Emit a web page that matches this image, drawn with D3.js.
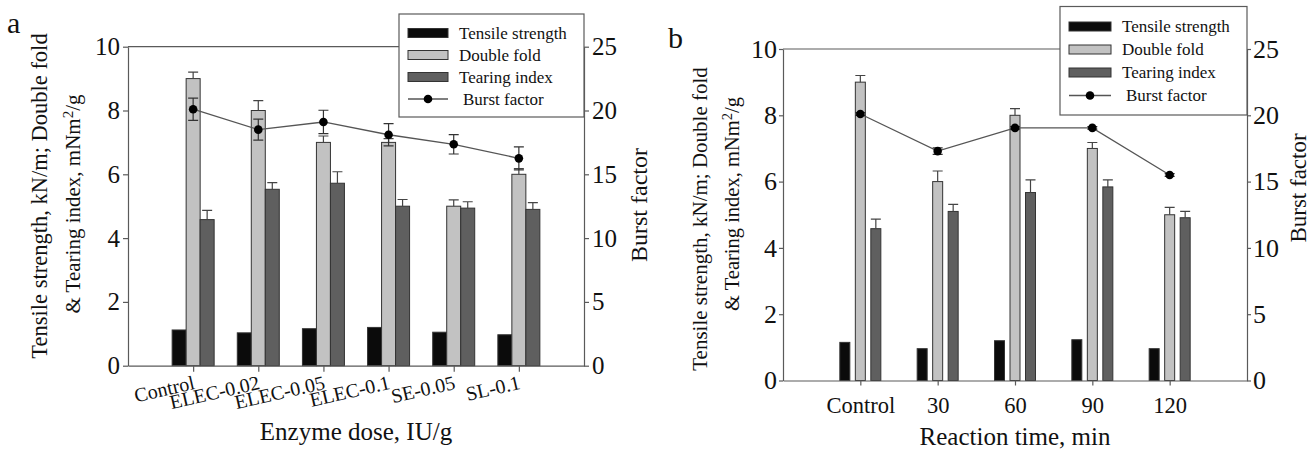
<!DOCTYPE html>
<html>
<head>
<meta charset="utf-8">
<script src="https://cdn.jsdelivr.net/npm/d3@7"></script>
<style>
  body { margin: 0; background: #fff; }
</style>
</head>
<body>
<div id="chart"></div>
<script>
// panel a - enzyme dose
const doseCats = ["Control", "ELEC-0.02", "ELEC-0.05", "ELEC-0.1", "SE-0.05", "SL-0.1"];
const doseTensile = [1.12, 1.03, 1.16, 1.2, 1.05, 0.97];
const doseFold = [9.0, 8.0, 7.0, 7.0, 5.0, 6.0];
const doseFoldErr = [0.2, 0.31, 0.2, 0.12, 0.2, 0.18];
const doseTear = [4.58, 5.53, 5.72, 5.0, 4.94, 4.9];
const doseTearErr = [0.29, 0.21, 0.36, 0.21, 0.2, 0.21];
const doseBurst = [20.1, 18.5, 19.1, 18.1, 17.35, 16.25];
const doseBurstErr = [0.87, 0.82, 0.92, 0.87, 0.76, 0.9];

// panel b - reaction time
const timeCats = ["Control", "30", "60", "90", "120"];
const timeTensile = [1.15, 0.96, 1.2, 1.23, 0.96];
const timeFold = [9.0, 6.0, 8.0, 7.0, 5.0];
const timeFoldErr = [0.2, 0.32, 0.2, 0.18, 0.22];
const timeTear = [4.58, 5.1, 5.67, 5.84, 4.91];
const timeTearErr = [0.29, 0.21, 0.38, 0.21, 0.19];
const timeBurst = [20.1, 17.3, 19.05, 19.05, 15.5];
const timeBurstErr = [0.1, 0.25, 0.1, 0.1, 0.1];

const leftTicks = [0, 2, 4, 6, 8, 10];
const rightTicks = [0, 5, 10, 15, 20, 25];
const seriesNames = ["Tensile strength", "Double fold", "Tearing index", "Burst factor"];

const serif = "'Liberation Serif', 'Times New Roman', serif";
const axisColor = "#5a5a5a";
const barColors = ["#0b0b0b", "#c2c2c2", "#5f5f5f"];

const svg = d3.select("#chart").append("svg")
    .attr("width", 1311)
    .attr("height", 451)
    .attr("font-family", serif);

function drawPanel(p) {
    const x = d3.scalePoint().domain(p.cats).range([p.x0, p.x1]).padding(1);
    const y = d3.scaleLinear().domain([0, 10]).range([p.yBot, p.yTop]);
    const y2 = d3.scaleLinear().domain([0, 25]).range([p.yBot, p.yTop]);
    const g = svg.append("g");

    // top frame line
    g.append("line")
        .attr("x1", p.x0).attr("x2", p.x1)
        .attr("y1", p.yTop).attr("y2", p.yTop)
        .attr("stroke", axisColor).attr("stroke-width", 1.2);

    const bars = [
        { vals: p.tensile, err: null },
        { vals: p.fold, err: p.foldErr },
        { vals: p.tear, err: p.tearErr }
    ];

    bars.forEach(function (s, i) {
        const off = (i - 1) * p.barStep - p.barW / 2;
        g.selectAll(".bar" + i)
            .data(p.cats)
            .enter()
            .append("rect")
            .attr("x", d => x(d) + off)
            .attr("y", (d, j) => y(s.vals[j]))
            .attr("width", p.barW)
            .attr("height", (d, j) => y(0) - y(s.vals[j]))
            .attr("fill", barColors[i])
            .attr("stroke", "#333")
            .attr("stroke-width", 1);

        if (s.err) {
            const cx = d => x(d) + off + p.barW / 2;
            g.selectAll(".err" + i)
                .data(p.cats)
                .enter()
                .append("path")
                .attr("d", function (d, j) {
                    const top = y(s.vals[j] + s.err[j]);
                    return `M${cx(d)},${y(s.vals[j])}V${top}M${cx(d) - 5},${top}H${cx(d) + 5}`;
                })
                .attr("fill", "none")
                .attr("stroke", "#444")
                .attr("stroke-width", 1.2);
        }
    });

    // burst factor line on right axis
    const line = d3.line()
        .x(d => x(d))
        .y((d, j) => y2(p.burst[j]));

    g.append("path")
        .datum(p.cats)
        .attr("d", line)
        .attr("fill", "none")
        .attr("stroke", "#555")
        .attr("stroke-width", 1.3);

    g.selectAll(".burstErr")
        .data(p.cats)
        .enter()
        .append("path")
        .attr("d", function (d, j) {
            const hi = y2(p.burst[j] + p.burstErr[j]);
            const lo = y2(p.burst[j] - p.burstErr[j]);
            return `M${x(d)},${lo}V${hi}M${x(d) - 5},${hi}H${x(d) + 5}M${x(d) - 5},${lo}H${x(d) + 5}`;
        })
        .attr("fill", "none")
        .attr("stroke", "#333")
        .attr("stroke-width", 1.2);

    g.selectAll(".burstDot")
        .data(p.cats)
        .enter()
        .append("circle")
        .attr("cx", d => x(d))
        .attr("cy", (d, j) => y2(p.burst[j]))
        .attr("r", 4.3)
        .attr("fill", "#000");

    // axes
    const axLeft = g.append("g")
        .attr("transform", `translate(${p.x0},0)`)
        .call(d3.axisLeft(y).tickValues(leftTicks).tickSize(p.tick).tickPadding(p.pad).tickSizeOuter(0));
    const axRight = g.append("g")
        .attr("transform", `translate(${p.x1},0)`)
        .call(d3.axisRight(y2).tickValues(rightTicks).tickSize(p.tick).tickPadding(p.pad).tickSizeOuter(0));
    const axBottom = g.append("g")
        .attr("transform", `translate(0,${p.yBot})`)
        .call(d3.axisBottom(x).tickSize(p.tickB).tickSizeOuter(0));

    [axLeft, axRight, axBottom].forEach(function (ax) {
        ax.attr("font-family", serif).attr("font-size", p.tickFont);
        ax.select(".domain").attr("stroke", axisColor).attr("stroke-width", 1.2);
        ax.selectAll(".tick line").attr("stroke", axisColor).attr("stroke-width", 1.2);
        ax.selectAll("text").attr("fill", "#111");
    });

    if (p.rotate) {
        axBottom.selectAll("text")
            .attr("font-size", p.catFont)
            .attr("text-anchor", "end")
            .attr("x", 2).attr("y", p.catY).attr("dy", 0)
            .attr("transform", `rotate(${p.rotate}, 2, ${p.catY})`);
    } else {
        axBottom.selectAll("text")
            .attr("font-size", p.catFont)
            .attr("y", p.catY).attr("dy", 0);
    }

    // axis titles
    g.append("text")
        .attr("x", (p.x0 + p.x1) / 2)
        .attr("y", p.xTitleY)
        .attr("text-anchor", "middle")
        .attr("font-size", 25)
        .attr("fill", "#111")
        .text(p.xTitle);

    g.append("text")
        .attr("transform", `translate(${p.yt1x},${p.yt1y}) rotate(-90)`)
        .attr("text-anchor", "middle")
        .attr("font-size", p.ytFont1)
        .attr("fill", "#111")
        .text("Tensile strength, kN/m; Double fold");

    const t2 = g.append("text")
        .attr("transform", `translate(${p.yt2x},${p.yt2y}) rotate(-90)`)
        .attr("text-anchor", "middle")
        .attr("font-size", p.ytFont2)
        .attr("fill", "#111");
    t2.append("tspan").text("& Tearing index, mNm");
    t2.append("tspan").attr("dy", "-0.45em").attr("font-size", "0.72em").text("2");
    t2.append("tspan").attr("dy", "0.32em").text("/g");

    g.append("text")
        .attr("transform", `translate(${p.rtx},${p.rty}) rotate(-90)`)
        .attr("text-anchor", "middle")
        .attr("font-size", p.rtFont)
        .attr("fill", "#111")
        .text("Burst factor");

    g.append("text")
        .attr("x", p.letterX).attr("y", p.letterY)
        .attr("font-size", 30)
        .attr("fill", "#111")
        .text(p.letter);

    // legend
    const lg = g.append("g");
    lg.append("rect")
        .attr("x", p.lgX).attr("y", p.lgY)
        .attr("width", p.x1 - p.lgX).attr("height", p.lgH)
        .attr("fill", "#fff")
        .attr("stroke", axisColor)
        .attr("stroke-width", 1.2);

    seriesNames.forEach(function (name, i) {
        const cy = p.lgY + p.lgRow0 + i * p.lgRowStep;
        const sx = p.lgX + 9;
        const sw = p.lgSw;
        if (i < 3) {
            lg.append("rect")
                .attr("x", sx).attr("y", cy - 4.5)
                .attr("width", sw).attr("height", 9)
                .attr("fill", barColors[i])
                .attr("stroke", "#333");
        } else {
            lg.append("line")
                .attr("x1", sx).attr("x2", sx + sw)
                .attr("y1", cy).attr("y2", cy)
                .attr("stroke", "#555").attr("stroke-width", 1.3);
            lg.append("circle")
                .attr("cx", sx + sw / 2).attr("cy", cy)
                .attr("r", 4.3).attr("fill", "#000");
        }
        lg.append("text")
            .attr("x", sx + sw + (i < 3 ? 11 : 15))
            .attr("y", cy)
            .attr("dy", "0.33em")
            .attr("font-size", 17)
            .attr("fill", "#111")
            .text(name);
    });
}

drawPanel({
    cats: doseCats, tensile: doseTensile, fold: doseFold, foldErr: doseFoldErr,
    tear: doseTear, tearErr: doseTearErr, burst: doseBurst, burstErr: doseBurstErr,
    x0: 128, x1: 584, yTop: 46.7, yBot: 365.7,
    barW: 14, barStep: 14,
    tick: 5, pad: 3, tickB: 6, tickFont: 25,
    catFont: 20, catY: 23, rotate: -13,
    xTitle: "Enzyme dose, IU/g", xTitleY: 440,
    yt1x: 47, yt1y: 196, ytFont1: 22.5,
    yt2x: 80, yt2y: 204, ytFont2: 21,
    rtx: 647, rty: 205, rtFont: 24,
    letter: "a", letterX: 7, letterY: 33,
    lgX: 399, lgY: 14, lgH: 103, lgRow0: 19, lgRowStep: 22, lgSw: 40
});

drawPanel({
    cats: timeCats, tensile: timeTensile, fold: timeFold, foldErr: timeFoldErr,
    tear: timeTear, tearErr: timeTearErr, burst: timeBurst, burstErr: timeBurstErr,
    x0: 783, x1: 1247, yTop: 49, yBot: 380.5,
    barW: 10, barStep: 15.5,
    tick: 4, pad: 2, tickB: 5, tickFont: 26,
    catFont: 22.5, catY: 32.5, rotate: 0,
    xTitle: "Reaction time, min", xTitleY: 445,
    yt1x: 707, yt1y: 219, ytFont1: 21,
    yt2x: 739, yt2y: 204, ytFont2: 20.5,
    rtx: 1306, rty: 188, rtFont: 23,
    letter: "b", letterX: 668, letterY: 48,
    lgX: 1060, lgY: 6.5, lgH: 108.5, lgRow0: 20, lgRowStep: 23, lgSw: 42
});
</script>
</body>
</html>
